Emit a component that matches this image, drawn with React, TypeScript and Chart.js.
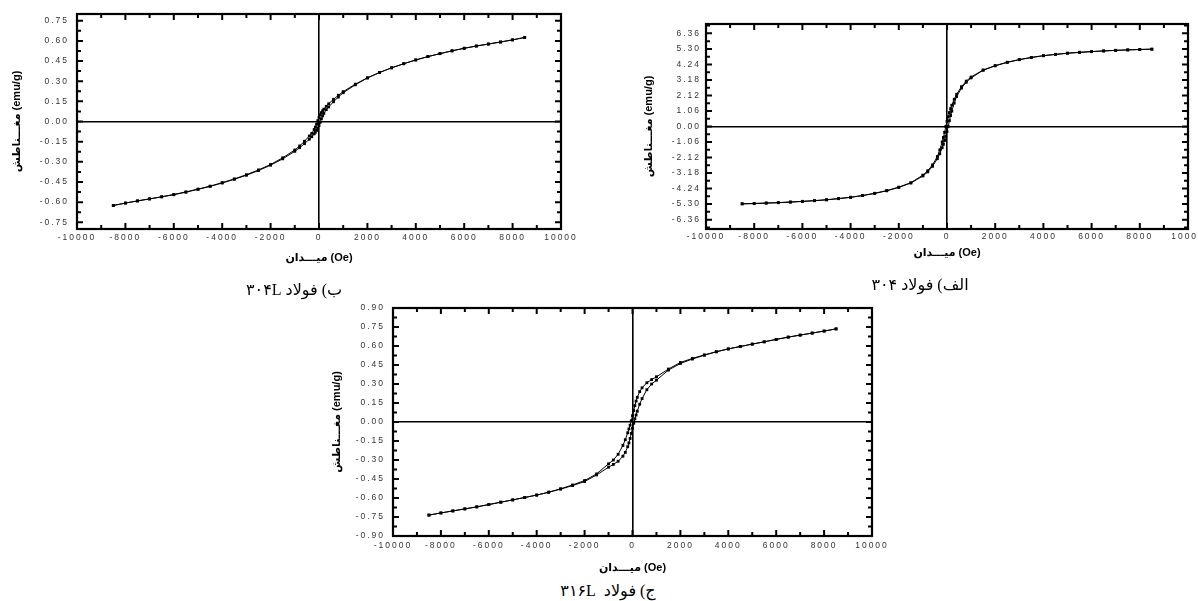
import { useEffect, useRef } from 'react';
import { Chart, registerables } from 'chart.js';

Chart.register(...registerables);

// ---- data ----
const H_DOWN = [8500, 8000, 7500, 7000, 6500, 6000, 5500, 5000, 4500, 4000, 3500, 3000, 2500, 2000, 1500, 1000, 800, 600, 400, 300, 200, 150, 100, 50, 0, -50, -100, -150, -200, -300, -400, -600, -800, -1000, -1500, -2000, -2500, -3000, -3500, -4000, -4500, -5000, -5500, -6000, -6500, -7000, -7500, -8000, -8500];
const H_UP = [-8500, -8000, -7500, -7000, -6500, -6000, -5500, -5000, -4500, -4000, -3500, -3000, -2500, -2000, -1500, -1000, -800, -600, -400, -300, -200, -150, -100, -50, 0, 50, 100, 150, 200, 300, 400, 600, 800, 1000, 1500, 2000, 2500, 3000, 3500, 4000, 4500, 5000, 5500, 6000, 6500, 7000, 7500, 8000, 8500];

const M304L_DOWN = [0.625, 0.607, 0.591, 0.576, 0.561, 0.545, 0.526, 0.505, 0.483, 0.458, 0.430, 0.400, 0.365, 0.325, 0.278, 0.222, 0.195, 0.165, 0.132, 0.113, 0.092, 0.080, 0.066, 0.049, 0.030, 0.006, -0.020, -0.042, -0.060, -0.088, -0.108, -0.147, -0.182, -0.212, -0.270, -0.320, -0.360, -0.396, -0.427, -0.455, -0.481, -0.503, -0.524, -0.543, -0.560, -0.576, -0.591, -0.607, -0.625];
const M304L_UP = [-0.625, -0.607, -0.591, -0.576, -0.561, -0.545, -0.526, -0.505, -0.483, -0.458, -0.430, -0.400, -0.365, -0.325, -0.278, -0.222, -0.195, -0.165, -0.132, -0.113, -0.092, -0.080, -0.066, -0.049, -0.030, -0.006, 0.020, 0.042, 0.060, 0.088, 0.108, 0.147, 0.182, 0.214, 0.273, 0.324, 0.364, 0.399, 0.430, 0.458, 0.483, 0.505, 0.526, 0.545, 0.562, 0.577, 0.592, 0.608, 0.626];

const M304_DOWN = [5.28, 5.26, 5.23, 5.20, 5.16, 5.12, 5.07, 5.01, 4.93, 4.84, 4.72, 4.57, 4.39, 4.16, 3.86, 3.38, 3.10, 2.72, 2.20, 1.86, 1.45, 1.22, 0.95, 0.66, 0.35, 0.00, -0.40, -0.75, -1.05, -1.60, -2.05, -2.62, -3.02, -3.32, -3.84, -4.14, -4.38, -4.56, -4.71, -4.83, -4.92, -5.00, -5.06, -5.11, -5.16, -5.20, -5.23, -5.26, -5.28];
const M304_UP = [-5.28, -5.26, -5.23, -5.20, -5.16, -5.12, -5.07, -5.01, -4.93, -4.84, -4.72, -4.57, -4.39, -4.16, -3.86, -3.38, -3.10, -2.72, -2.20, -1.86, -1.45, -1.22, -0.95, -0.66, -0.35, 0.00, 0.40, 0.75, 1.05, 1.60, 2.05, 2.62, 3.02, 3.32, 3.84, 4.14, 4.38, 4.56, 4.71, 4.83, 4.92, 5.00, 5.06, 5.11, 5.16, 5.20, 5.23, 5.26, 5.28];

const M316L_DOWN = [0.735, 0.718, 0.702, 0.686, 0.670, 0.652, 0.633, 0.615, 0.596, 0.577, 0.555, 0.530, 0.502, 0.470, 0.418, 0.357, 0.335, 0.310, 0.270, 0.240, 0.195, 0.165, 0.130, 0.090, 0.050, 0.010, -0.025, -0.055, -0.085, -0.140, -0.185, -0.255, -0.300, -0.330, -0.410, -0.462, -0.497, -0.527, -0.554, -0.577, -0.596, -0.615, -0.633, -0.652, -0.670, -0.686, -0.702, -0.718, -0.735];
const M316L_UP = [-0.735, -0.718, -0.702, -0.686, -0.670, -0.652, -0.633, -0.615, -0.596, -0.577, -0.555, -0.530, -0.502, -0.470, -0.418, -0.357, -0.335, -0.310, -0.270, -0.240, -0.195, -0.165, -0.130, -0.090, -0.050, -0.010, 0.025, 0.055, 0.085, 0.140, 0.185, 0.255, 0.300, 0.330, 0.410, 0.462, 0.497, 0.527, 0.554, 0.577, 0.596, 0.615, 0.633, 0.652, 0.670, 0.686, 0.702, 0.718, 0.735];

const X_TICKS = [-10000, -8000, -6000, -4000, -2000, 0, 2000, 4000, 6000, 8000, 10000];
const X_MINOR = [-9000, -7000, -5000, -3000, -1000, 1000, 3000, 5000, 7000, 9000];

const Y_TICKS_304L = [-0.75, -0.6, -0.45, -0.3, -0.15, 0, 0.15, 0.3, 0.45, 0.6, 0.75];
const Y_MINOR_304L = [-0.675, -0.525, -0.375, -0.225, -0.075, 0.075, 0.225, 0.375, 0.525, 0.675];

const Y_TICKS_304 = [-6.36, -5.3, -4.24, -3.18, -2.12, -1.06, 0, 1.06, 2.12, 3.18, 4.24, 5.3, 6.36];
const Y_MINOR_304 = [-6.89, -5.83, -4.77, -3.71, -2.65, -1.59, -0.53, 0.53, 1.59, 2.65, 3.71, 4.77, 5.83, 6.89];

const Y_TICKS_316L = [-0.9, -0.75, -0.6, -0.45, -0.3, -0.15, 0, 0.15, 0.3, 0.45, 0.6, 0.75, 0.9];
const Y_MINOR_316L = [-0.825, -0.675, -0.525, -0.375, -0.225, -0.075, 0.075, 0.225, 0.375, 0.525, 0.675, 0.825];

const X_TITLE = 'میـــدان (Oe)';
const Y_TITLE = 'مغـــناطش (emu/g)';

const CAPTION_304L = 'ب) فولاد ۳۰۴L';
const CAPTION_304 = 'الف) فولاد ۳۰۴';
const CAPTION_316L = 'ج) فولاد  ۳۱۶L';

// ---- styling / layout ----
const TICK_FONT = "'Liberation Sans', Arial, sans-serif";
const TITLE_FONT = "'Liberation Sans', 'DejaVu Sans', sans-serif";

type Spec = {
  left: number; top: number; width: number; height: number;
  padTop: number; padRight: number; yWidth: number; xHeight: number;
  yTickPad: number; yTitlePad: number; xTickPad: number; xTitlePad: number;
  yMin: number; yMax: number; yTicks: number[]; yMinor: number[];
  down: number[]; up: number[];
};

const SPEC_A: Spec = {
  left: 0, top: 0, width: 580, height: 269,
  padTop: 14, padRight: 19, yWidth: 77, xHeight: 40,
  yTickPad: 8, yTitlePad: 10, xTickPad: 4, xTitlePad: 4,
  yMin: -0.8, yMax: 0.8, yTicks: Y_TICKS_304L, yMinor: Y_MINOR_304L,
  down: M304L_DOWN, up: M304L_UP,
};
const SPEC_B: Spec = {
  left: 620, top: 0, width: 578, height: 264,
  padTop: 24, padRight: 10, yWidth: 86, xHeight: 35,
  yTickPad: 5, yTitlePad: 22, xTickPad: 3, xTitlePad: 4,
  yMin: -7, yMax: 7, yTicks: Y_TICKS_304, yMinor: Y_MINOR_304,
  down: M304_DOWN, up: M304_UP,
};
const SPEC_C: Spec = {
  left: 310, top: 295, width: 580, height: 284,
  padTop: 13, padRight: 18, yWidth: 83, xHeight: 43,
  yTickPad: 8, yTitlePad: 20, xTickPad: 5, xTitlePad: 4,
  yMin: -0.9, yMax: 0.9, yTicks: Y_TICKS_316L, yMinor: Y_MINOR_316L,
  down: M316L_DOWN, up: M316L_UP,
};

function MagChart({ spec }: { spec: Spec }) {
  const ref = useRef<HTMLCanvasElement>(null);
  useEffect(() => {
    const canvas = ref.current;
    if (!canvas) return;
    const framePlugin = {
      id: 'frame',
      beforeDraw(chart: any) {
        chart.ctx.letterSpacing = '0px';
      },
      afterDatasetsDraw(chart: any) {
        const { ctx, chartArea: a } = chart;
        const xs = chart.scales.x;
        const ys = chart.scales.y;
        ctx.save();
        ctx.strokeStyle = '#000';
        ctx.lineWidth = 2;
        ctx.beginPath();
        const xt = (vals: number[], len: number) => {
          for (const v of vals) {
            const p = xs.getPixelForValue(v);
            ctx.moveTo(p, a.bottom); ctx.lineTo(p, a.bottom - len);
            ctx.moveTo(p, a.top); ctx.lineTo(p, a.top + len);
          }
        };
        const yt = (vals: number[], len: number) => {
          for (const v of vals) {
            const p = ys.getPixelForValue(v);
            ctx.moveTo(a.left, p); ctx.lineTo(a.left + len, p);
            ctx.moveTo(a.right, p); ctx.lineTo(a.right - len, p);
          }
        };
        xt(X_TICKS, 6); xt(X_MINOR, 4);
        yt(spec.yTicks, 6); yt(spec.yMinor, 4);
        ctx.stroke();
        ctx.lineWidth = 2.2;
        ctx.strokeRect(a.left, a.top, a.right - a.left, a.bottom - a.top);
        ctx.restore();
        ctx.letterSpacing = '2px';
      },
    };
    const zeroLine = (c: any) => (c.tick && c.tick.value === 0 ? '#000' : 'rgba(0,0,0,0)');
    const ds = (hs: number[], ms: number[]) => ({
      data: hs.map((h, i) => ({ x: h, y: ms[i] })),
      showLine: true,
      borderColor: '#000',
      borderWidth: 1,
      pointRadius: 2,
      pointStyle: 'rect',
      pointBackgroundColor: '#000',
      pointBorderWidth: 0,
    });
    const chart = new Chart(canvas, {
      type: 'scatter',
      data: { datasets: [ds(H_DOWN, spec.down), ds(H_UP, spec.up)] as any },
      options: {
        animation: false,
        responsive: false,
        layout: { padding: { left: 0, top: spec.padTop, right: spec.padRight, bottom: 0 } },
        plugins: { legend: { display: false }, tooltip: { enabled: false } },
        scales: {
          x: {
            type: 'linear', min: -10000, max: 10000,
            afterBuildTicks: (s: any) => { s.ticks = X_TICKS.map((value) => ({ value })); },
            afterFit: (s: any) => { s.height = spec.xHeight; s.paddingLeft = 0; s.paddingRight = 0; },
            grid: { drawTicks: false, color: zeroLine, lineWidth: 1.6 },
            border: { display: false },
            ticks: {
              autoSkip: false, maxRotation: 0, minRotation: 0, padding: spec.xTickPad, color: '#333', z: 1,
              font: { family: TICK_FONT, size: 8.5 },
              callback: (v: any) => String(v),
            },
            title: {
              display: true, text: X_TITLE, color: '#000',
              font: { family: TITLE_FONT, size: 11, weight: 'bold' },
              padding: { top: 0, bottom: spec.xTitlePad },
            },
          },
          y: {
            type: 'linear', min: spec.yMin, max: spec.yMax,
            afterBuildTicks: (s: any) => { s.ticks = spec.yTicks.map((value) => ({ value })); },
            afterFit: (s: any) => { s.width = spec.yWidth; s.paddingTop = 0; s.paddingBottom = 0; },
            grid: { drawTicks: false, color: zeroLine, lineWidth: 1.6 },
            border: { display: false },
            ticks: {
              autoSkip: false, padding: spec.yTickPad, color: '#333', z: 1,
              font: { family: TICK_FONT, size: 8.5 },
              callback: (v: any) => Number(v).toFixed(2),
            },
            title: {
              display: true, text: Y_TITLE, color: '#000',
              font: { family: TITLE_FONT, size: 11, weight: 'bold' },
              padding: { top: spec.yTitlePad, bottom: 0 },
            },
          },
        },
      } as any,
      plugins: [framePlugin as any],
    });
    return () => chart.destroy();
  }, [spec]);
  return (
    <canvas
      ref={ref}
      width={spec.width}
      height={spec.height}
      style={{ position: 'absolute', left: spec.left, top: spec.top, width: spec.width, height: spec.height }}
    />
  );
}

function Caption({ text, cx, cy }: { text: string; cx: number; cy: number }) {
  return (
    <div
      dir="rtl"
      style={{
        position: 'absolute', left: cx - 120, top: cy - 11, width: 240, height: 22,
        lineHeight: '22px', textAlign: 'center', whiteSpace: 'pre',
        fontFamily: "'Liberation Serif', 'DejaVu Sans', serif", fontSize: 16, color: '#000',
      }}
    >
      {text}
    </div>
  );
}

export default function App() {
  return (
    <div style={{ position: 'absolute', left: 0, top: 0, width: 1198, height: 601, background: '#fff', overflow: 'hidden' }}>
      <MagChart spec={SPEC_A} />
      <MagChart spec={SPEC_B} />
      <MagChart spec={SPEC_C} />
      <Caption text={CAPTION_304L} cx={294} cy={290} />
      <Caption text={CAPTION_304} cx={920} cy={285} />
      <Caption text={CAPTION_316L} cx={608} cy={591} />
    </div>
  );
}
